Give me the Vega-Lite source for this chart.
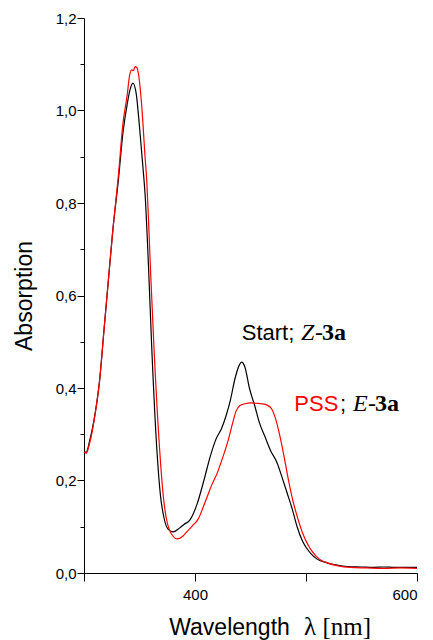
{
  "$schema": "https://vega.github.io/schema/vega-lite/v6.json",
  "width": 333,
  "height": 555,
  "autosize": {"type": "none"},
  "padding": {"left": 84, "top": 18, "right": 16, "bottom": 67},
  "background": "white",
  "config": {"view": {"stroke": null}, "font": "Liberation Sans"},
  "datasets": {
    "spectra": [
      {"series":"Z","lambda":300,"A":0.262},{"series":"Z","lambda":302,"A":0.261},{"series":"Z","lambda":305,"A":0.285},{"series":"Z","lambda":310,"A":0.345},{"series":"Z","lambda":314,"A":0.415},{"series":"Z","lambda":318,"A":0.525},{"series":"Z","lambda":322,"A":0.634},{"series":"Z","lambda":326,"A":0.742},{"series":"Z","lambda":331,"A":0.85},{"series":"Z","lambda":335,"A":0.95},{"series":"Z","lambda":339,"A":1.015},{"series":"Z","lambda":341.5,"A":1.045},{"series":"Z","lambda":344,"A":1.059},{"series":"Z","lambda":347,"A":1.037},{"series":"Z","lambda":350,"A":0.965},{"series":"Z","lambda":353,"A":0.88},{"series":"Z","lambda":355,"A":0.82},{"series":"Z","lambda":358,"A":0.67},{"series":"Z","lambda":361,"A":0.489},{"series":"Z","lambda":365.5,"A":0.272},{"series":"Z","lambda":369,"A":0.165},{"series":"Z","lambda":372,"A":0.12},{"series":"Z","lambda":375.7,"A":0.095},{"series":"Z","lambda":380.5,"A":0.089},{"series":"Z","lambda":386,"A":0.097},{"series":"Z","lambda":390,"A":0.105},{"series":"Z","lambda":395.5,"A":0.115},{"series":"Z","lambda":402,"A":0.15},{"series":"Z","lambda":408,"A":0.2},{"series":"Z","lambda":413.5,"A":0.25},{"series":"Z","lambda":419,"A":0.29},{"series":"Z","lambda":424,"A":0.313},{"series":"Z","lambda":428,"A":0.34},{"series":"Z","lambda":432,"A":0.375},{"series":"Z","lambda":436,"A":0.42},{"series":"Z","lambda":440,"A":0.45},{"series":"Z","lambda":442,"A":0.456},{"series":"Z","lambda":445,"A":0.445},{"series":"Z","lambda":449,"A":0.4},{"series":"Z","lambda":454,"A":0.36},{"series":"Z","lambda":458,"A":0.325},{"series":"Z","lambda":463,"A":0.295},{"series":"Z","lambda":468,"A":0.265},{"series":"Z","lambda":474,"A":0.238},{"series":"Z","lambda":478,"A":0.21},{"series":"Z","lambda":483,"A":0.173},{"series":"Z","lambda":488,"A":0.135},{"series":"Z","lambda":492,"A":0.1},{"series":"Z","lambda":497,"A":0.068},{"series":"Z","lambda":504,"A":0.043},{"series":"Z","lambda":510,"A":0.03},{"series":"Z","lambda":519,"A":0.022},{"series":"Z","lambda":528,"A":0.017},{"series":"Z","lambda":537,"A":0.014},{"series":"Z","lambda":550,"A":0.013},{"series":"Z","lambda":560,"A":0.012},{"series":"Z","lambda":570,"A":0.013},{"series":"Z","lambda":580,"A":0.012},{"series":"Z","lambda":590,"A":0.012},{"series":"Z","lambda":600,"A":0.012},
      {"series":"E","lambda":300,"A":0.262},{"series":"E","lambda":302,"A":0.259},{"series":"E","lambda":305,"A":0.28},{"series":"E","lambda":310,"A":0.343},{"series":"E","lambda":314,"A":0.415},{"series":"E","lambda":318,"A":0.525},{"series":"E","lambda":322,"A":0.634},{"series":"E","lambda":326,"A":0.742},{"series":"E","lambda":331,"A":0.86},{"series":"E","lambda":335,"A":0.97},{"series":"E","lambda":339,"A":1.035},{"series":"E","lambda":341,"A":1.075},{"series":"E","lambda":343,"A":1.088},{"series":"E","lambda":344.5,"A":1.086},{"series":"E","lambda":346,"A":1.095},{"series":"E","lambda":347.5,"A":1.093},{"series":"E","lambda":349,"A":1.08},{"series":"E","lambda":352,"A":1.01},{"series":"E","lambda":355,"A":0.9},{"series":"E","lambda":356.5,"A":0.85},{"series":"E","lambda":358,"A":0.77},{"series":"E","lambda":360,"A":0.65},{"series":"E","lambda":363,"A":0.489},{"series":"E","lambda":368,"A":0.272},{"series":"E","lambda":371.5,"A":0.165},{"series":"E","lambda":374,"A":0.12},{"series":"E","lambda":377,"A":0.093},{"series":"E","lambda":380,"A":0.08},{"series":"E","lambda":383.5,"A":0.074},{"series":"E","lambda":387,"A":0.076},{"series":"E","lambda":390,"A":0.082},{"series":"E","lambda":393,"A":0.09},{"series":"E","lambda":398,"A":0.103},{"series":"E","lambda":403,"A":0.117},{"series":"E","lambda":407,"A":0.14},{"series":"E","lambda":411,"A":0.165},{"series":"E","lambda":415,"A":0.19},{"series":"E","lambda":420,"A":0.216},{"series":"E","lambda":425,"A":0.25},{"series":"E","lambda":430,"A":0.288},{"series":"E","lambda":434,"A":0.325},{"series":"E","lambda":437,"A":0.35},{"series":"E","lambda":440.5,"A":0.362},{"series":"E","lambda":445,"A":0.366},{"series":"E","lambda":450,"A":0.368},{"series":"E","lambda":455,"A":0.367},{"series":"E","lambda":460,"A":0.366},{"series":"E","lambda":465,"A":0.363},{"series":"E","lambda":469,"A":0.355},{"series":"E","lambda":472,"A":0.338},{"series":"E","lambda":476.6,"A":0.295},{"series":"E","lambda":480,"A":0.255},{"series":"E","lambda":483,"A":0.216},{"series":"E","lambda":488,"A":0.158},{"series":"E","lambda":493,"A":0.115},{"series":"E","lambda":497,"A":0.086},{"series":"E","lambda":502,"A":0.06},{"series":"E","lambda":506,"A":0.045},{"series":"E","lambda":512,"A":0.03},{"series":"E","lambda":519,"A":0.022},{"series":"E","lambda":528,"A":0.016},{"series":"E","lambda":540,"A":0.012},{"series":"E","lambda":555,"A":0.011},{"series":"E","lambda":570,"A":0.01},{"series":"E","lambda":585,"A":0.011},{"series":"E","lambda":600,"A":0.01}
    ],
    "labels": [
      {"role":"name","text":"Start;","lambda":442.1,"A":0.504},
      {"role":"isomer","text":"Z","lambda":495.5,"A":0.504},
      {"role":"link","text":"-","lambda":508,"A":0.504},
      {"role":"compound","text":"3a","lambda":514.4,"A":0.504},
      {"role":"name","text":"PSS","lambda":489.5,"A":0.35},
      {"role":"name","text":";","lambda":530.6,"A":0.35},
      {"role":"isomer","text":"E","lambda":542.3,"A":0.35},
      {"role":"link","text":"-","lambda":555.9,"A":0.35},
      {"role":"compound","text":"3a","lambda":562.2,"A":0.35}
    ]
  },
  "resolve": {"axis": {"x": "independent", "y": "independent"}},
  "layer": [
    {
      "data": {"name": "spectra"},
      "mark": {"type": "line", "strokeWidth": 1.2, "interpolate": "monotone"},
      "encoding": {
        "x": {"field": "lambda", "type": "quantitative",
          "scale": {"domain": [300, 600], "nice": false, "zero": false},
          "axis": {"orient": "bottom", "values": [300, 400, 500, 600], "format": "d",
            "labelExpr": "datum.value == 400 || datum.value == 600 ? datum.label : ''",
            "grid": false, "domainColor": "black", "tickColor": "black", "tickSize": 8,
            "labelFont": "Liberation Sans Narrow, Liberation Sans, sans-serif", "labelFontSize": 15, "labelColor": "black", "labelPadding": 6,
            "title": "Wavelength", "titleFont": "Liberation Sans", "titleFontSize": 23, "titleFontWeight": "normal", "titleColor": "black",
            "titleX": 145, "titleY": 61, "titleBaseline": "alphabetic", "titleAlign": "center"}},
        "y": {"field": "A", "type": "quantitative",
          "scale": {"domain": [0, 1.2], "nice": false, "zero": true},
          "axis": {"orient": "left", "values": [0, 0.2, 0.4, 0.6, 0.8, 1.0, 1.2], "format": ".1f",
            "labelExpr": "replace(datum.label, '.', ',')",
            "grid": false, "domainColor": "black", "tickColor": "black", "tickSize": 7,
            "labelFont": "Liberation Sans Narrow, Liberation Sans, sans-serif", "labelFontSize": 15, "labelColor": "black", "labelPadding": 1,
            "title": "Absorption", "titleFont": "Liberation Sans", "titleFontSize": 23, "titleFontWeight": "normal", "titleColor": "black",
            "titlePadding": 19}},
        "color": {"field": "series", "type": "nominal", "scale": {"domain": ["Z", "E"], "range": ["black", "#ff0000"]}, "legend": null}
      }
    },
    {
      "data": {"name": "labels"},
      "transform": [{"filter": "datum.role == 'name'"}],
      "mark": {"type": "text", "align": "left", "baseline": "alphabetic", "font": "Liberation Sans", "fontSize": 22},
      "encoding": {
        "x": {"field": "lambda", "type": "quantitative",
          "axis": {"orient": "bottom", "labels": false, "ticks": false, "domain": false, "grid": false,
            "title": "λ [nm]", "titleFont": "Liberation Serif", "titleFontSize": 25, "titleFontWeight": "normal", "titleColor": "black",
            "titleX": 253, "titleY": 61, "titleBaseline": "alphabetic", "titleAlign": "center"}},
        "y": {"field": "A", "type": "quantitative",
          "axis": {"orient": "left", "values": [0.1, 0.3, 0.5, 0.7, 0.9, 1.1], "labels": false, "domain": false, "grid": false,
            "tickColor": "black", "tickSize": 4, "title": null}},
        "text": {"field": "text"},
        "color": {"condition": {"test": "datum.text == 'PSS'", "value": "#ff0000"}, "value": "black"}
      }
    },
    {
      "data": {"name": "labels"},
      "transform": [{"filter": "datum.role == 'isomer'"}],
      "mark": {"type": "text", "align": "left", "baseline": "alphabetic", "font": "Liberation Serif", "fontStyle": "italic", "fontSize": 24, "color": "black"},
      "encoding": {
        "x": {"field": "lambda", "type": "quantitative", "axis": null},
        "y": {"field": "A", "type": "quantitative", "axis": null},
        "text": {"field": "text"}
      }
    },
    {
      "data": {"name": "labels"},
      "transform": [{"filter": "datum.role == 'link'"}],
      "mark": {"type": "text", "align": "left", "baseline": "alphabetic", "font": "Liberation Serif", "fontSize": 24, "color": "black"},
      "encoding": {
        "x": {"field": "lambda", "type": "quantitative", "axis": null},
        "y": {"field": "A", "type": "quantitative", "axis": null},
        "text": {"field": "text"}
      }
    },
    {
      "data": {"name": "labels"},
      "transform": [{"filter": "datum.role == 'compound'"}],
      "mark": {"type": "text", "align": "left", "baseline": "alphabetic", "font": "Liberation Serif", "fontWeight": "bold", "fontSize": 24, "color": "black"},
      "encoding": {
        "x": {"field": "lambda", "type": "quantitative", "axis": null},
        "y": {"field": "A", "type": "quantitative", "axis": null},
        "text": {"field": "text"}
      }
    }
  ]
}
